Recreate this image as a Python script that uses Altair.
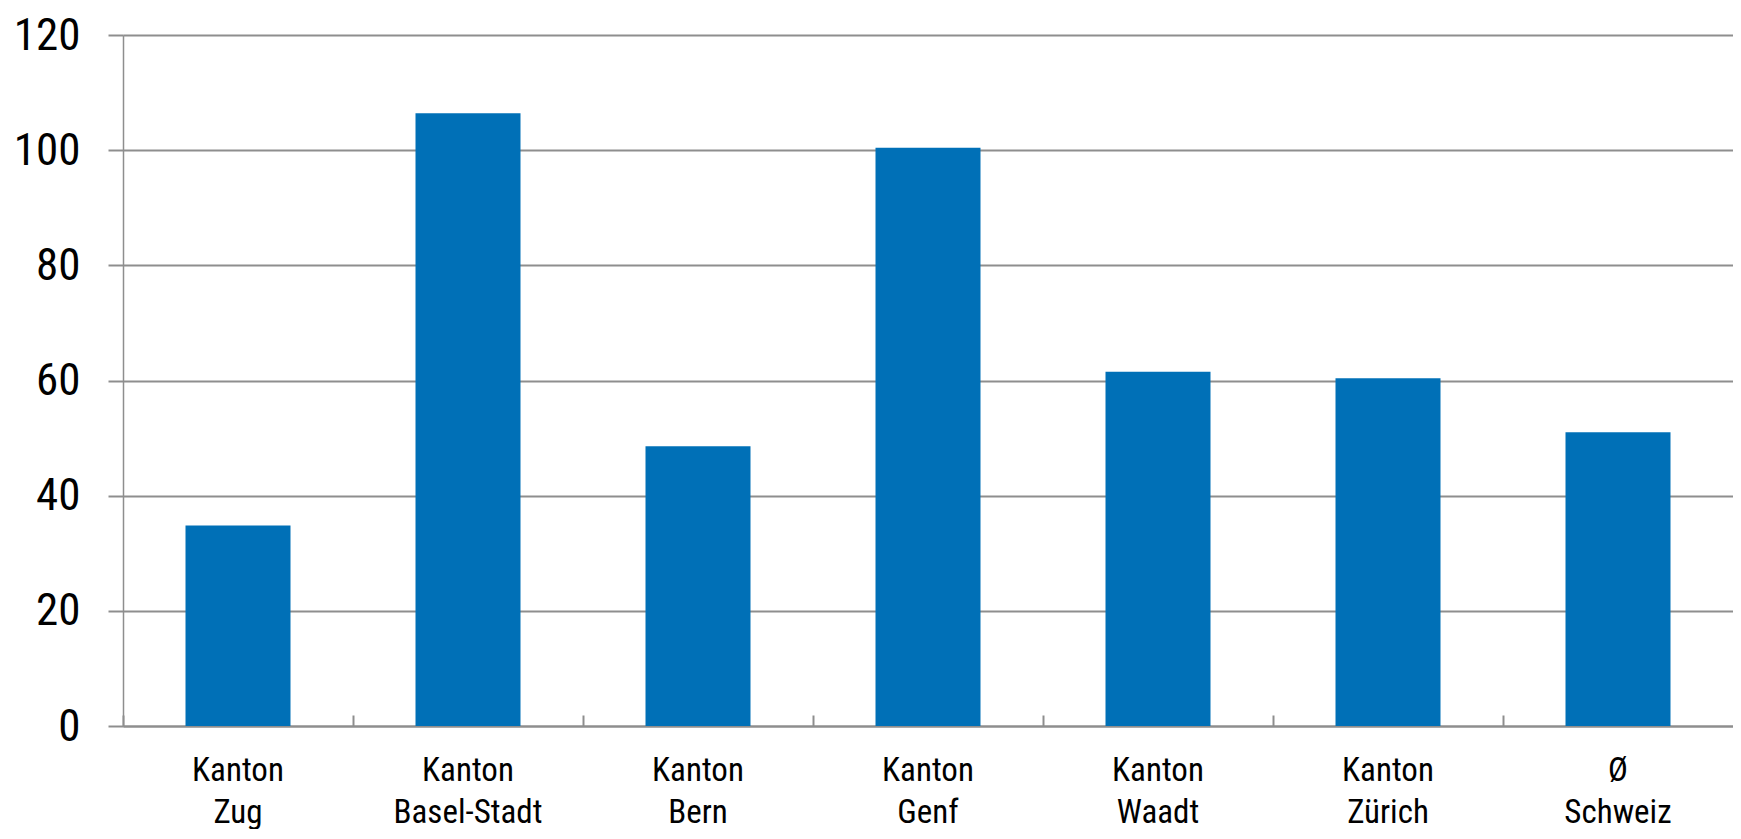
import altair as alt
import pandas as pd

categories = ["Kanton\nZug", "Kanton\nBasel-Stadt", "Kanton\nBern", "Kanton\nGenf",
              "Kanton\nWaadt", "Kanton\nZürich", "Ø\nSchweiz"]
values = [34.8, 106.4, 48.6, 100.4, 61.5, 60.4, 51.0]
y_ticks = [0, 20, 40, 60, 80, 100, 120]

df = pd.DataFrame({"cat": categories, "val": values})

FONT = "Liberation Sans Narrow, Arial Narrow, Roboto Condensed, sans-serif"
GRAY = "#8e8e8e"
BLUE = "#0070b7"
H = 691

xscale = alt.Scale(domain=categories, paddingInner=0, paddingOuter=0)
yscale = alt.Scale(domain=[0, 120], nice=False)

bars = alt.Chart(df).mark_bar(color=BLUE, size=105).encode(
    x=alt.X("cat:N", sort=categories, scale=xscale,
            axis=alt.Axis(orient="bottom", title=None, ticks=False, domain=True,
                          domainColor=GRAY, domainWidth=2,
                          labelExpr="split(datum.label, '\\n')",
                          labelFont=FONT, labelFontSize=33, labelColor="black",
                          labelLineHeight=42, labelBaseline="alphabetic",
                          labelPadding=54, labelAngle=0, labelAlign="center")),
    y=alt.Y("val:Q", scale=yscale,
            axis=alt.Axis(title=None, values=y_ticks, grid=True, gridColor=GRAY,
                          gridWidth=2, tickColor=GRAY, tickWidth=2, tickSize=15,
                          domainColor=GRAY, domainWidth=1.5,
                          labelFont=FONT, labelFontSize=45, labelColor="black",
                          labelPadding=28, labelBaseline="middle")),
)

ticks = alt.Chart(df).mark_tick(opacity=0).encode(
    x=alt.X("cat:N", sort=categories, scale=xscale,
            axis=alt.Axis(orient="top", offset=-H, title=None, labels=False,
                          domain=False, ticks=True, tickSize=11, tickWidth=2,
                          tickColor=GRAY, bandPosition=0, grid=False)),
)

chart = alt.layer(bars, ticks).resolve_axis(x="independent").properties(
    width=1610, height=H,
    autosize=alt.AutoSizeParams(type="none"),
    padding={"left": 115, "top": 27, "right": 0, "bottom": 103},
).configure_view(strokeWidth=0, stroke="transparent").configure(background="white")

chart.save("out.html", embed_options={"renderer": "svg", "actions": False})
